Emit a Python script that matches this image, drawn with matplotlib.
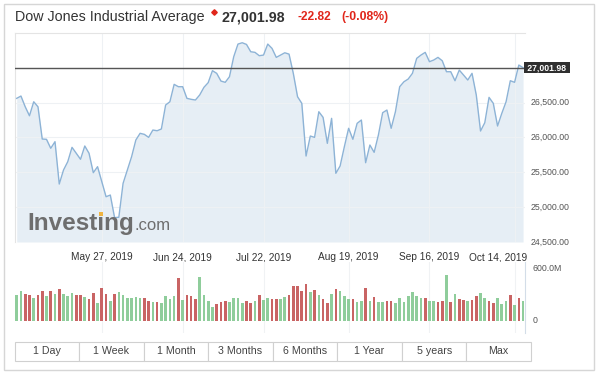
import matplotlib
matplotlib.use("Agg")
import matplotlib.pyplot as plt
import matplotlib.transforms as mtransforms
from matplotlib.patches import Rectangle

plt.rcParams["font.family"] = ["Liberation Sans", "DejaVu Sans"]

W, H = 600, 378

# daily closes, Apr 29 - Oct 16 2019
prices = [
    26562, 26595, 26441, 26312, 26513, 26441, 25978, 25974, 25845, 25940,
    25332, 25533, 25653, 25859, 25773, 25687, 25878, 25773, 25495, 25581,
    25365, 25150, 25174, 24850, 24855, 25342, 25533, 25724, 25964, 26060,
    26045, 26002, 26107, 26097, 26122, 26466, 26513, 26763, 26729, 26729,
    26562, 26548, 26538, 26610, 26720, 26787, 26959, 26921, 26810, 26792,
    26872, 27159, 27341, 27360, 27336, 27231, 27222, 27174, 27183, 27341,
    27279, 27150, 27183, 27216, 27197, 26921, 26585, 26490, 25734, 26021,
    26002, 26370, 26289, 25916, 26275, 25486, 25591, 25868, 26132, 25974,
    26203, 26251, 25638, 25892, 25787, 26036, 26356, 26394, 26132, 26370,
    26729, 26800, 26839, 26921, 27136, 27183, 27222, 27088, 27112, 27150,
    27102, 26944, 26944, 26815, 26968, 26897, 26825, 26921, 26610, 26093,
    26212, 26576, 26490, 26165, 26347, 26513, 26815, 26792, 27040, 27001.98,
]

# volume in millions
volumes = [
    291, 341, 310, 291, 260, 291, 341, 280, 341, 303,
    360, 303, 280, 318, 291, 291, 272, 245, 318, 207,
    375, 303, 222, 303, 329, 291, 264, 260, 272, 260,
    260, 226, 214, 214, 207, 283, 253, 280, 490, 241,
    291, 280, 245, 502, 291, 226, 157, 195, 214, 226,
    214, 260, 260, 207, 226, 207, 226, 291, 241, 260,
    245, 245, 245, 272, 299, 394, 394, 341, 425, 329,
    349, 291, 245, 203, 310, 360, 337, 280, 253, 245,
    214, 222, 375, 226, 272, 214, 214, 226, 226, 203,
    260, 214, 280, 329, 280, 260, 260, 226, 226, 214,
    226, 521, 214, 310, 245, 234, 226, 234, 280, 318,
    260, 226, 203, 260, 195, 226, 291, 184, 260, 226,
]

# G = up day, R = down day
vol_dir = ("GGRRGRRGRGRGGGRRGRRGRRGRGGGGGGRRGRGGGGRGRRRGGGGRRRGGGGRRGRGG"
           "RRGGRRRRRGRGRRGRGGGRGGRGRGGRRGGGGGGGRGGRRGRGRRGRRGGRRGGGRGR")

tick_idx = [20, 39, 58, 78, 97, 117]
tick_labels = ["May 27, 2019", "Jun 24, 2019", "Jul 22, 2019",
               "Aug 19, 2019", "Sep 16, 2019", "Oct 14, 2019"]

price_ticks = [24500, 25000, 25500, 26000, 26500]
last_price = 27001.98
buttons = ["1 Day", "1 Week", "1 Month", "3 Months", "6 Months",
           "1 Year", "5 years", "Max"]


def fx(x):
    return x / W


def fy(y):
    return 1 - y / H


def px_axes(fig, left, top, right, bottom):
    return fig.add_axes([fx(left), fy(bottom), (right - left) / W, (bottom - top) / H])


fig = plt.figure(figsize=(W / 100, H / 100), dpi=100)
fig.patch.set_facecolor("white")

# outer frame
fig.patches.append(Rectangle((fx(4), fy(370)), fx(590), 366 / H, transform=fig.transFigure,
                             fill=False, edgecolor="#d6d6d6", lw=1.0))

# ---- title ----
fig.text(fx(15), fy(17), "Dow Jones Industrial Average", fontsize=10.3, color="#333333",
         va="center", ha="left")
fig.lines.append(plt.Line2D([fx(214)], [fy(12)], marker="D", markersize=2.8,
                            color="#e0261b", transform=fig.transFigure))
fig.text(fx(222), fy(17), "27,001.98", fontsize=10.3, fontweight="bold", color="#333333",
         va="center", ha="left")
fig.text(fx(297), fy(17), "-22.82", fontsize=8.6, fontweight="bold", color="#e0261b",
         va="center", ha="left")
fig.text(fx(341), fy(17), "(-0.08%)", fontsize=8.8, fontweight="bold", color="#e0261b",
         va="center", ha="left")

# ---- price chart ----
x = list(range(len(prices)))
xlim = (-0.4, 119.45)

ax = px_axes(fig, 15, 33, 525, 242)
ax.set_xlim(*xlim)
ax.set_ylim(24500, 27500)
ax.fill_between(x, prices, 24500, color="#e6eef5", lw=0, zorder=1)
ax.plot(x, prices, color="#8db3d6", lw=1.0, zorder=3)
for v in [25000, 25500, 26000, 26500, 27000]:
    ax.axhline(v, color="#eef1f4", lw=0.8, zorder=2)
for t in tick_idx:
    ax.axvline(t, color="#eef1f4", lw=0.8, zorder=2)
ax.axhline(last_price, color="#555555", lw=1.0, zorder=4)
ax.set_xticks([])
ax.set_yticks([])
for side in ["right", "bottom"]:
    ax.spines[side].set_visible(False)
for side in ["top", "left"]:
    ax.spines[side].set_color("#e4e4e4")
    ax.spines[side].set_linewidth(0.8)

# right-hand price labels
ytrans = mtransforms.blended_transform_factory(ax.transAxes, ax.transData)
for v in price_ticks:
    ax.text(1.01, v, f"{v:,.2f}", transform=ytrans, fontsize=6.3, color="#555555",
            va="center", ha="left", clip_on=False)
ax.text(1.0, last_price, f" {last_price:,.2f} ", transform=ytrans, fontsize=6.2,
        fontweight="bold", color="white", va="center", ha="left", clip_on=False,
        bbox=dict(boxstyle="square,pad=0.15", fc="#2f2f2f", ec="none"), zorder=6)

# date labels
xtrans = mtransforms.blended_transform_factory(ax.transData, ax.transAxes)
for t, lab in zip(tick_idx[:-1], tick_labels[:-1]):
    ax.text(t, -0.072, lab, transform=xtrans, fontsize=7.3, color="#333333",
            ha="center", va="center", clip_on=False)
ax.text(1.005, -0.072, tick_labels[-1], transform=ax.transAxes, fontsize=7.3,
        color="#333333", ha="right", va="center", clip_on=False)

# Investing.com watermark (orange dot placed on the "i" by measuring the text)
base_y = fy(230)
logo_font = dict(fontsize=17.5, fontweight="bold", va="baseline", ha="left")
t_main = fig.text(fx(27), base_y, "Investing", color="#6e6e6e", zorder=10, **logo_font)
t_pre = fig.text(fx(27), base_y, "Invest", color="none", **logo_font)
t_i = fig.text(fx(27), base_y, "i", color="none", **logo_font)
fig.canvas.draw()
r = fig.canvas.get_renderer()
bb_main = t_main.get_window_extent(r)
bb_pre = t_pre.get_window_extent(r)
bb_i = t_i.get_window_extent(r)
t_pre.remove()
t_i.remove()
fig.text(fx(bb_main.x1 + 1), base_y, ".com", fontsize=12, color="#6e6e6e",
         va="baseline", ha="left", zorder=10)
dot_x = bb_pre.x1 + bb_i.width / 2
dot_w = 4.2
dot_top = H - bb_i.y1
fig.patches.append(Rectangle((fx(dot_x - dot_w / 2), fy(dot_top + dot_w)), dot_w / W, dot_w / H,
                             transform=fig.transFigure, fc="#f0b440", ec="none", zorder=11))

# ---- volume chart ----
vax = px_axes(fig, 15, 262, 525, 333)
vax.set_xlim(*xlim)
vax.set_ylim(-141, 675)
colors = ["#8fcd9b" if d == "G" else "#c96464" for d in vol_dir]
vax.bar(x, volumes, width=0.62, color=colors, lw=0, zorder=3)
for t in tick_idx:
    vax.axvline(t, color="#f0f2f4", lw=0.8, zorder=1)
vax.set_xticks([])
vax.set_yticks([])
for side in ["top", "left", "bottom"]:
    vax.spines[side].set_visible(False)
vax.spines["right"].set_color("#d3dde8")
vax.spines["right"].set_linewidth(0.8)
vtrans = mtransforms.blended_transform_factory(vax.transAxes, vax.transData)
vax.text(1.014, 600, "600.0M", transform=vtrans, fontsize=6.3, color="#555555",
         va="center", ha="left", clip_on=False)
vax.text(1.014, 0, "0", transform=vtrans, fontsize=6.3, color="#555555",
         va="center", ha="left", clip_on=False)

# ---- range buttons ----
b_left, b_right, b_top, b_bot = 14.6, 531, 342, 361
bw = (b_right - b_left) / len(buttons)
for k, lab in enumerate(buttons):
    x0 = b_left + k * bw
    fig.patches.append(Rectangle((fx(x0), fy(b_bot)), bw / W, (b_bot - b_top) / H,
                                 transform=fig.transFigure, fc="white", ec="#d0d0d0", lw=0.8))
    fig.text(fx(x0 + bw / 2), fy((b_top + b_bot) / 2), lab, fontsize=7.7, color="#444444",
             ha="center", va="center")

fig.savefig("out.png", dpi=100, facecolor="white")
